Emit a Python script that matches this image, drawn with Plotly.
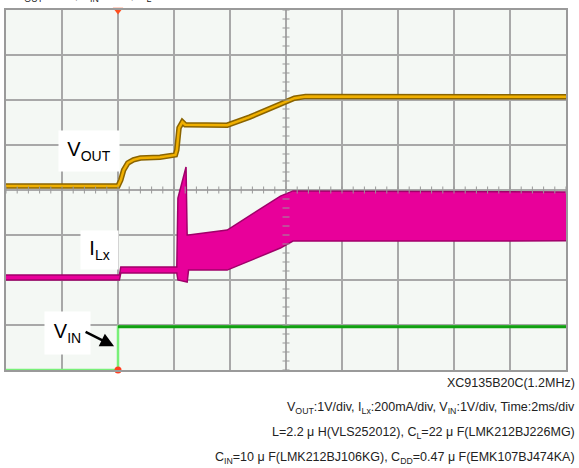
import numpy as np
import plotly.graph_objects as go

# Escalas do osciloscópio: 10 div horizontais (2 ms/div), 8 div verticais
time_div_ms = 2.0
vout_scale, ilx_scale, vin_scale = 1.0, 200.0, 1.0   # V/div, mA/div, V/div
vout_gnd, ilx_gnd, vin_gnd = 4.07, 2.07, 0.0          # posição do zero (div)

# V_OUT (V)
vout_t = [-4, 0, 0.1, 0.2, 0.35, 0.55, 0.8, 1.5, 2.05, 2.1, 2.18, 2.3, 2.4,
          3.9, 4.7, 5.4, 6.0, 6.3, 6.7, 16]
vout_v = [0.02, 0.02, 0.15, 0.37, 0.53, 0.60, 0.64, 0.66, 0.71, 0.82, 1.31,
          1.44, 1.38, 1.37, 1.55, 1.73, 1.89, 1.97, 2.01, 2.00]

# I_Lx (mA) - envoltória do ripple
ilx_t = [-4, 0.05, 0.1, 2.1, 2.14, 2.3, 2.43, 2.47, 2.52, 3.9, 4.35, 5.05,
         5.8, 6.25, 16]
ilx_hi = [8, 8, 44, 44, 350, 420, 488, 186, 186, 208, 244, 297, 359, 382, 377]
ilx_lo = [-14, -14, 17, 17, -14, -20, -23, -23, 30, 30, 53, 88, 128, 159, 160]

# V_IN (V)
vin_t = [-4, 0, 0, 16]
vin_v = [0, 0, 0.96, 0.96]

# marcadores de canal (lado direito, em div)
chan_marks = [3.96, 2.04, 0.29]
chan_colors = ['#f5c860', '#f070c0', '#70e070']


def to_div(vals, gnd, scale):
    return [gnd + v / scale for v in vals]


fig = go.Figure()

# V_OUT: contorno escuro + traço dourado
fig.add_scatter(x=vout_t, y=to_div(vout_v, vout_gnd, vout_scale), mode='lines',
                line=dict(color='#8a6400', width=5.5), hoverinfo='skip')
fig.add_scatter(x=vout_t, y=to_div(vout_v, vout_gnd, vout_scale), mode='lines',
                line=dict(color='#f0b000', width=2.5), hoverinfo='skip')

# I_Lx: faixa preenchida
fig.add_scatter(x=ilx_t, y=to_div(ilx_lo, ilx_gnd, ilx_scale), mode='lines',
                line=dict(color='#a0006a', width=1.5), hoverinfo='skip')
fig.add_scatter(x=ilx_t, y=to_div(ilx_hi, ilx_gnd, ilx_scale), mode='lines',
                line=dict(color='#a0006a', width=1.5), fill='tonexty',
                fillcolor='#e8009a', hoverinfo='skip')

# V_IN
fig.add_scatter(x=vin_t, y=to_div(vin_v, vin_gnd, vin_scale), mode='lines',
                line=dict(color='#78f078', width=2.5), cliponaxis=False,
                hoverinfo='skip')
fig.add_scatter(x=vin_t[2:], y=to_div(vin_v[2:], vin_gnd, vin_scale), mode='lines',
                line=dict(color='#10a010', width=3), hoverinfo='skip')

# marcas finas nos eixos centrais
tx = np.arange(-4, 16.01, 0.4)
ty = np.arange(0, 8.01, 0.2)
fig.add_scatter(x=[6] * len(ty), y=ty, mode='markers',
                marker=dict(symbol='line-ew', size=5, line=dict(color='#999', width=1)),
                hoverinfo='skip')
fig.add_scatter(x=tx, y=[4] * len(tx), mode='markers',
                marker=dict(symbol='line-ns', size=5, line=dict(color='#999', width=1)),
                hoverinfo='skip')

# trigger
fig.add_scatter(x=[0], y=[8], mode='markers', cliponaxis=False,
                marker=dict(symbol='triangle-down', size=9, color='#ff5020'),
                hoverinfo='skip')
fig.add_scatter(x=[0], y=[0], mode='markers', cliponaxis=False,
                marker=dict(symbol='circle', size=7, color='#ff4020'),
                hoverinfo='skip')
fig.add_scatter(x=[16.3] * 3, y=chan_marks, mode='markers', cliponaxis=False,
                marker=dict(symbol='triangle-left', size=7, color=chan_colors),
                hoverinfo='skip')

lbl_font = dict(family='Liberation Sans, Arial', size=20, color='black')
fig.add_annotation(x=-1.04, y=4.87, text='V<sub>OUT</sub>', showarrow=False,
                   bgcolor='white', width=58, height=38, font=lbl_font)
fig.add_annotation(x=-0.66, y=2.67, text='I<sub>Lx</sub>', showarrow=False,
                   bgcolor='white', width=35, height=36, font=lbl_font)
fig.add_annotation(x=-1.79, y=0.82, text='V<sub>IN</sub>', showarrow=False,
                   bgcolor='white', width=43, height=40, font=lbl_font)
fig.add_annotation(x=-0.14, y=0.53, ax=-30, ay=-15, text='', showarrow=True,
                   arrowhead=2, arrowsize=1.1, arrowwidth=2.5, arrowcolor='black')

# legenda de condições
txt_font = dict(family='Liberation Sans, Arial', size=12.5, color='#222')
info = [
    'XC9135B20C(1.2MHz)',
    'V<sub>OUT</sub>:1V/div, I<sub>Lx</sub>:200mA/div, V<sub>IN</sub>:1V/div, Time:2ms/div',
    'L=2.2 μ H(VLS252012), C<sub>L</sub>=22 μ F(LMK212BJ226MG)',
    'C<sub>IN</sub>=10 μ F(LMK212BJ106KG), C<sub>DD</sub>=0.47 μ F(EMK107BJ474KA)',
]
for i, s in enumerate(info):
    fig.add_annotation(xref='paper', yref='paper', x=1, y=-0.036 - 0.0695 * i,
                       xanchor='right', yanchor='middle', xshift=11,
                       text=s, showarrow=False, font=txt_font)

# título cortado no topo
fig.add_annotation(xref='paper', yref='paper', x=0, y=1, xanchor='left',
                   yanchor='bottom', yshift=4, xshift=8, showarrow=False,
                   text='V<sub>OUT</sub>=2.0V, V<sub>IN</sub>=1.0V, R<sub>L</sub>=20Ω',
                   font=txt_font)

fig.update_layout(
    width=579, height=468,
    margin=dict(l=6, r=13, t=10, b=98),
    paper_bgcolor='white', plot_bgcolor='#f4f8f4',
    showlegend=False,
    xaxis=dict(range=[-4, 16], tick0=-4, dtick=time_div_ms, showticklabels=False,
               showgrid=True, gridcolor='#a8a8a8', gridwidth=1.5, zeroline=False,
               showline=True, linecolor='#9a9a9a', linewidth=2, mirror=True,
               ticks=''),
    yaxis=dict(range=[0, 8], dtick=1, showticklabels=False,
               showgrid=True, gridcolor='#a8a8a8', gridwidth=1.5, zeroline=False,
               showline=True, linecolor='#9a9a9a', linewidth=2, mirror=True,
               ticks=''),
)

fig.write_html("out.html", config={'displayModeBar': False},
               post_script="document.body.style.margin='0';")
